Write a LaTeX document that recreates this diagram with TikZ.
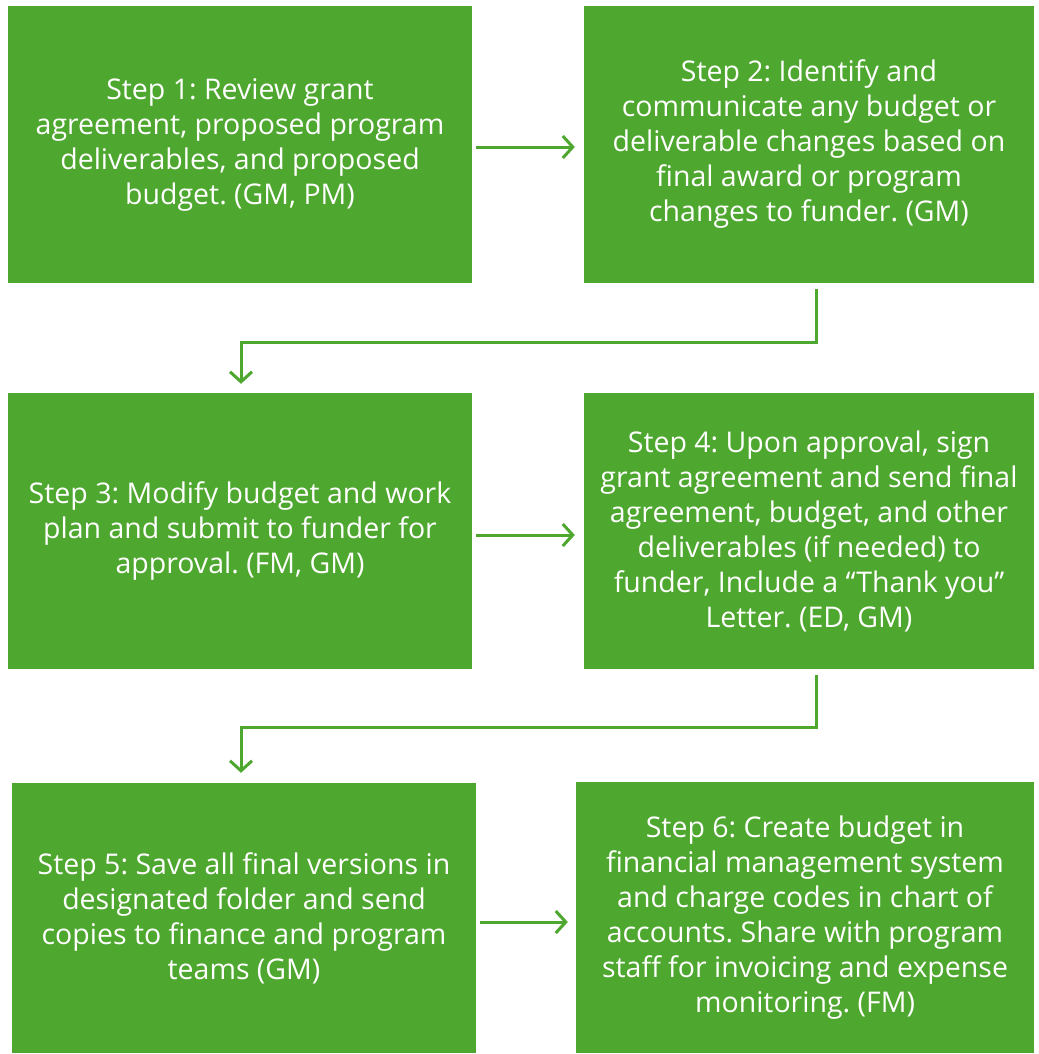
\documentclass[tikz,border=0pt]{standalone}
\usepackage{fontspec}
\setmainfont{Open Sans}
\usetikzlibrary{arrows.meta}
\definecolor{boxgreen}{HTML}{4EA72E}
\begin{document}
\frenchspacing
\begin{tikzpicture}[x=1pt,y=-1pt,
  stepbox/.style={fill=boxgreen,draw=none,inner sep=0pt,text=white,align=center,
    font=\fontsize{28.5}{35}\selectfont},
  conn/.style={draw=boxgreen,line width=3pt,-{Straight Barb[length=10pt,width=22pt,line width=3pt]}}]
\useasboundingbox (0,0) rectangle (1038,1054);
% boxes
\node (b1) [stepbox,minimum width=464pt,minimum height=277pt] at (240,144.5)
  {Step 1: Review grant\\agreement, proposed program\\deliverables, and proposed\\budget. (GM, PM)};
\node (b2) [stepbox,minimum width=450pt,minimum height=277pt] at (809,144.5)
  {Step 2: Identify and\\communicate any budget or\\deliverable changes based on\\final award or program\\changes to funder. (GM)};
\node (b3) [stepbox,minimum width=464pt,minimum height=276pt] at (240,531)
  {Step 3: Modify budget and work\\plan and submit to funder for\\approval. (FM, GM)};
\node (b4) [stepbox,minimum width=450pt,minimum height=276pt] at (809,531)
  {Step 4: Upon approval, sign\\grant agreement and send final\\agreement, budget, and other\\deliverables (if needed) to\\funder, Include a “Thank you”\\Letter. (ED, GM)};
\node (b5) [stepbox,minimum width=464pt,minimum height=270pt] at (244,918)
  {Step 5: Save all final versions in\\designated folder and send\\copies to finance and program\\teams (GM)};
\node (b6) [stepbox,minimum width=458pt,minimum height=271pt] at (805,917.5)
  {Step 6: Create budget in\\financial management system\\and charge codes in chart of\\accounts. Share with program\\staff for invoicing and expense\\monitoring. (FM)};
% connectors
\coordinate (c1a) at (816,342);
\coordinate (c1b) at (241,342);
\coordinate (c2a) at (816,727);
\coordinate (c2b) at (241,727);
\draw[conn] ([xshift=4pt]b1.east |- 0,147) -- ([xshift=-9pt]b2.west |- 0,147);
\draw[conn] ([yshift=-6pt]b2.south -| c1a) -- (c1a) -- (c1b) -- ([yshift=9pt]b3.north -| c1b);
\draw[conn] ([xshift=4pt]b3.east |- 0,535) -- ([xshift=-9pt]b4.west |- 0,535);
\draw[conn] ([yshift=-6pt]b4.south -| c2a) -- (c2a) -- (c2b) -- ([yshift=10pt]b5.north -| c2b);
\draw[conn] ([xshift=4pt]b5.east |- 0,922) -- ([xshift=-8pt]b6.west |- 0,922);
\end{tikzpicture}
\end{document}
